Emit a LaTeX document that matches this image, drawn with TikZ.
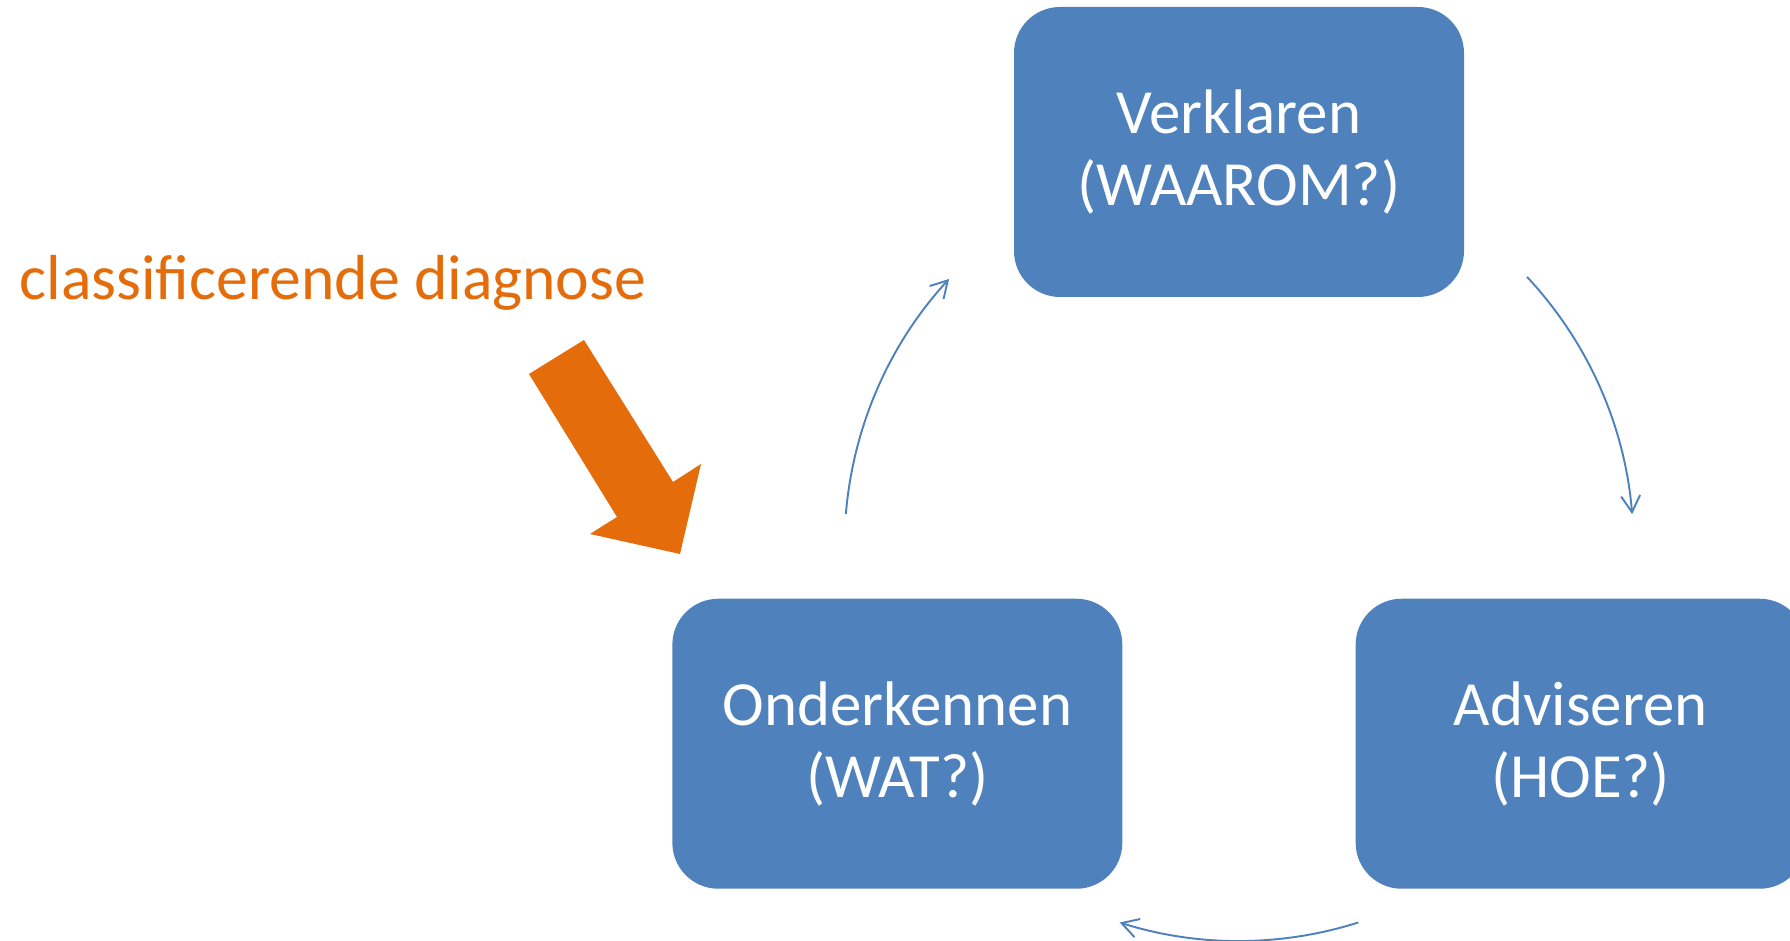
\documentclass[tikz,border=0pt]{standalone}
\usepackage{fontspec}
\setmainfont{Carlito}
\usepackage{xcolor}
\usepackage{tikz}
\usetikzlibrary{arrows.meta}
\usetikzlibrary{calc}
\usetikzlibrary{positioning}

\definecolor{stageblue}{HTML}{4F81BD}
\definecolor{diagorange}{HTML}{E46C0A}

\begin{document}
\begin{tikzpicture}[x=0.1mm, y=0.1mm,
    stage/.style={rectangle, rounded corners=4.6mm, fill=stageblue,
      minimum width=45mm, minimum height=29mm, text=white, align=center,
      font=\fontsize{17.9}{20.5}\selectfont},
    cycle arrow/.style={stageblue, line width=0.55pt,
      -{Straight Barb[length=1.65mm, width=1.9mm]}}]

    \def\R{394.5}
    \useasboundingbox (0, 0) rectangle (1790, 941);
    \coordinate (C) at (1239, 394.5); % centre of the cycle

    \node [stage] (verklaren) at ($(C) + (90:\R)$) {Verklaren\\(WAAROM?)};
    \node [stage] (adviseren) at ($(C) + (-30:\R)$) {Adviseren\\(HOE?)};
    \node [stage] (onderkennen) at ($(C) + (210:\R)$) {Onderkennen\\(WAT?)};

    \foreach \a/\b [count=\i] in {175.3/137.3, 43.1/4.7, -72.4/-107.6} {
      \coordinate (arc\i) at ($(C) + (\a:\R)$);
      \draw [cycle arrow] (arc\i)
      arc [start angle=\a, end angle=\b, radius=\R]; % cycle step
    }

    % label and block arrow
    \node [anchor=base west, inner sep=0pt, text=diagorange,
      font=\fontsize{18.1}{22}\selectfont] (diagnose) at (19, 641)
      {classificerende diagnose};
    \fill [diagorange] (529, 567) -- (584, 601) -- (673, 459) -- (701, 477)
    -- (680, 387) -- (590, 407) -- (617, 424) -- cycle;

\end{tikzpicture}
\end{document}
